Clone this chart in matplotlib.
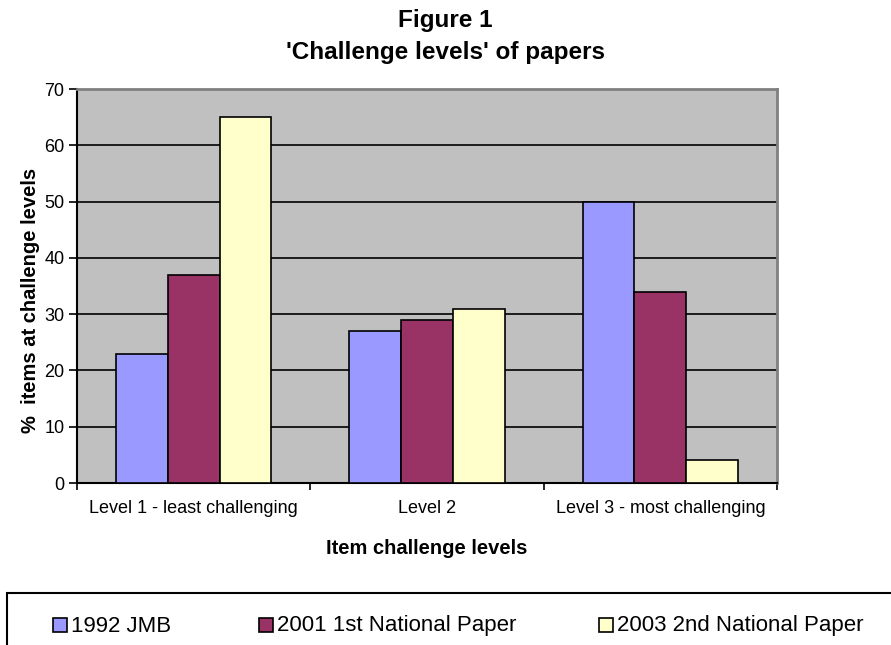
import numpy as np
import matplotlib
matplotlib.use("Agg")
import matplotlib.pyplot as plt
from matplotlib.patches import Rectangle

plt.rcParams['font.family'] = ['Liberation Sans', 'DejaVu Sans']

# Data
levels = ["Level 1 - least challenging", "Level 2", "Level 3 - most challenging"]
series_names = ["1992 JMB", "2001 1st National Paper", "2003 2nd National Paper"]
jmb_1992 = [23, 27, 50]
national_2001 = [37, 29, 34]
national_2003 = [65, 31, 4]
colors = ["#9999FF", "#993366", "#FFFFCC"]

W, H = 891, 645
fig = plt.figure(figsize=(W / 100, H / 100), dpi=100)
ax = fig.add_axes([77/W, 1 - 483/H, 700/W, 394/H])
ax.set_facecolor("#C0C0C0")

x = np.arange(len(levels))
w = 1 / 4.5  # Excel gap width 150%
for i, (vals, c) in enumerate(zip([jmb_1992, national_2001, national_2003], colors)):
    ax.bar(x + (i - 1) * w, vals, width=w, color=c, edgecolor="black", linewidth=1.2, zorder=3)

ax.set_xlim(-0.5, 2.5)
ax.set_ylim(0, 70)
ax.set_yticks(range(0, 71, 10))
ax.yaxis.grid(True, color="black", linewidth=1.2, zorder=0)
ax.set_axisbelow(True)

# category boundary ticks, labels centered
ax.set_xticks([-0.5, 0.5, 1.5, 2.5])
ax.set_xticklabels([])
ax.set_xticks(x, minor=True)
ax.set_xticklabels(levels, minor=True, fontsize=13)
ax.tick_params(axis="x", which="minor", length=0, pad=12)
ax.tick_params(axis="x", which="major", length=5, direction="out", width=1.2)
ax.tick_params(axis="y", labelsize=13, length=6, width=1.2, pad=3)

for s in ["top", "right"]:
    ax.spines[s].set_color("#808080")
    ax.spines[s].set_linewidth(2)
ax.spines["left"].set_linewidth(1.5)
ax.spines["bottom"].set_linewidth(1.5)

ax.set_ylabel("%  items at challenge levels", fontsize=14.5, fontweight="bold", va="center")
ax.yaxis.set_label_coords((30 - 77) / 700, (483 - 300) / 394)
ax.set_xlabel("Item challenge levels", fontsize=14.5, fontweight="bold", va="center")
ax.xaxis.set_label_coords(0.5, (483 - 548) / 394)

fig.text(0.5, 1 - 20/H, "Figure 1", ha="center", va="center", fontsize=17.5, fontweight="bold")
fig.text(0.5, 1 - 53/H, "'Challenge levels' of papers", ha="center", va="center",
         fontsize=17.5, fontweight="bold")

# legend box (runs off the right and bottom edges like the reference)
fig.patches.append(Rectangle((7/W, -0.05), 1.0, (H - 593)/H + 0.05, transform=fig.transFigure,
                             facecolor="white", edgecolor="black", linewidth=1.5))
legend_x = [53, 259, 599]
for name, c, lx in zip(series_names, colors, legend_x):
    fig.patches.append(Rectangle((lx/W, 1 - 632/H), 14/W, 14/H, transform=fig.transFigure,
                                 facecolor=c, edgecolor="black", linewidth=1.2))
    fig.text((lx + 18)/W, 1 - 626/H, name, ha="left", va="center", fontsize=16)

plt.savefig("out.png", dpi=100)
